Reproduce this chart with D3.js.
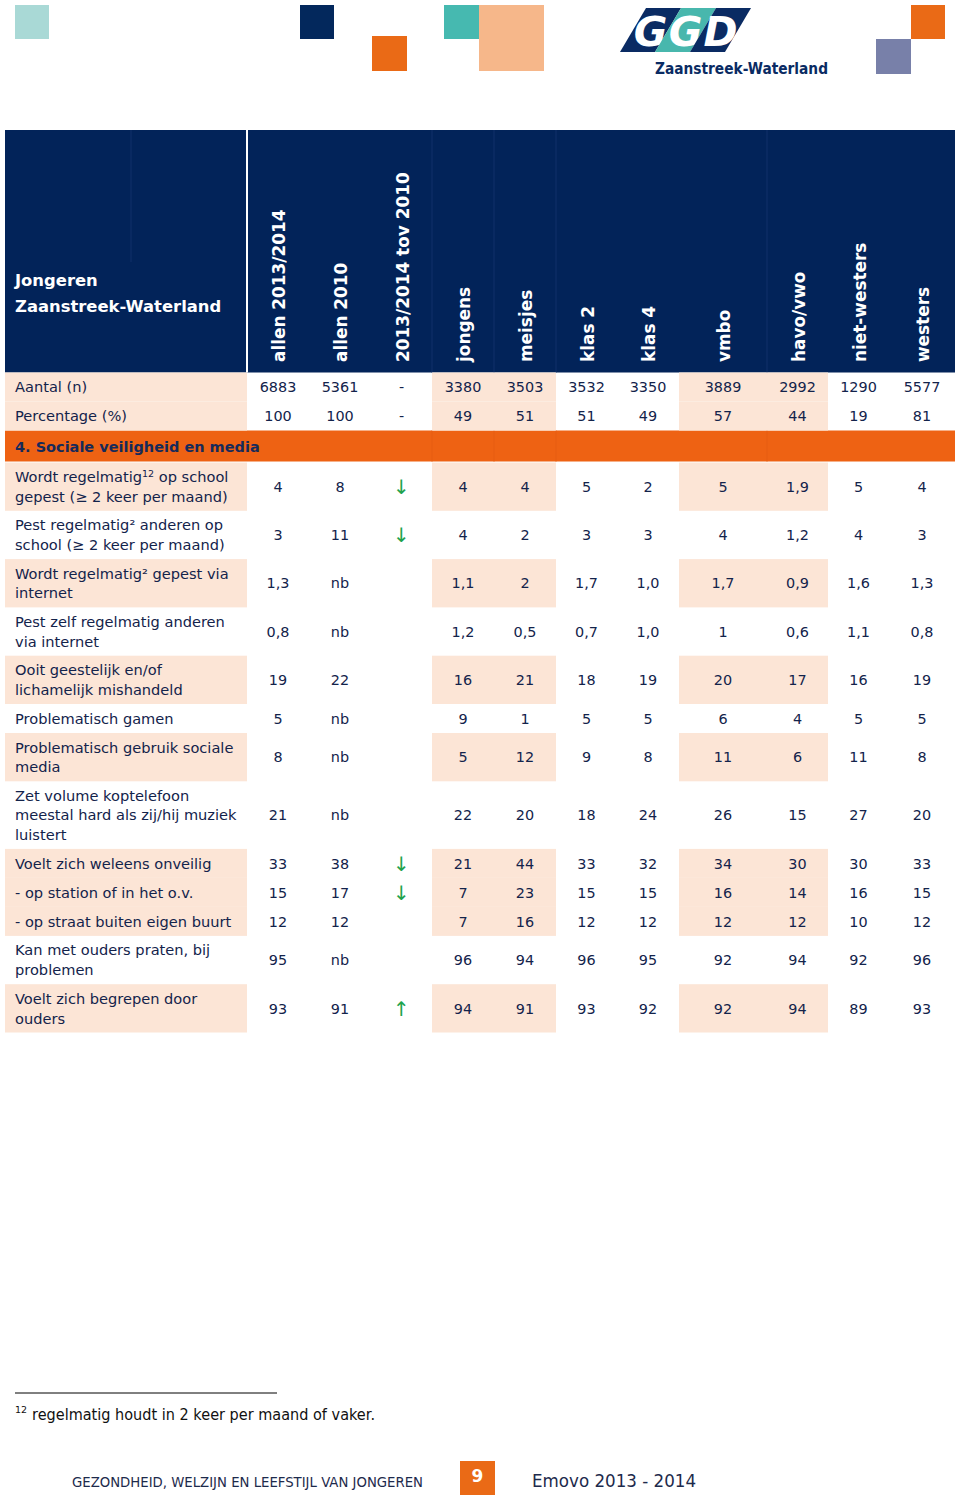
<!DOCTYPE html>
<html><head><meta charset="utf-8">
<script src="https://cdn.jsdelivr.net/npm/d3@7"></script>
<style>body{margin:0;background:#fff}svg{display:block}</style>
</head><body>
<svg id="c" width="960" height="1499"></svg>
<script>
// ---------- DATA ----------
const titleLines = ["Jongeren", "Zaanstreek-Waterland"];
const colLabels = ["allen 2013/2014","allen 2010","2013/2014 tov 2010","jongens","meisjes","klas 2","klas 4","vmbo","havo/vwo","niet-westers","westers"];
const sectionTitle = "4. Sociale veiligheid en media";
const rowLabels = [
  ["Aantal (n)"],
  ["Percentage (%)"],
  ["Wordt regelmatig^12^ op school","gepest (≥ 2 keer per maand)"],
  ["Pest regelmatig² anderen op","school (≥ 2 keer per maand)"],
  ["Wordt regelmatig² gepest via","internet"],
  ["Pest zelf regelmatig anderen","via internet"],
  ["Ooit geestelijk en/of","lichamelijk mishandeld"],
  ["Problematisch gamen"],
  ["Problematisch gebruik sociale","media"],
  ["Zet volume koptelefoon","meestal hard als zij/hij muziek","luistert"],
  ["Voelt zich weleens onveilig"],
  ["- op station of in het o.v."],
  ["- op straat buiten eigen buurt"],
  ["Kan met ouders praten, bij","problemen"],
  ["Voelt zich begrepen door","ouders"]
];
const allen2014   = ["6883","100","4","3","1,3","0,8","19","5","8","21","33","15","12","95","93"];
const allen2010   = ["5361","100","8","11","nb","nb","22","nb","nb","nb","38","17","12","nb","91"];
const trend       = ["-","-","down","down","","","","","","","down","down","","","up"];
const jongens     = ["3380","49","4","4","1,1","1,2","16","9","5","22","21","7","7","96","94"];
const meisjes     = ["3503","51","4","2","2","0,5","21","1","12","20","44","23","16","94","91"];
const klas2       = ["3532","51","5","3","1,7","0,7","18","5","9","18","33","15","12","96","93"];
const klas4       = ["3350","49","2","3","1,0","1,0","19","5","8","24","32","15","12","95","92"];
const vmbo        = ["3889","57","5","4","1,7","1","20","6","11","26","34","16","12","92","92"];
const havovwo     = ["2992","44","1,9","1,2","0,9","0,6","17","4","6","15","30","14","12","94","94"];
const nietWesters = ["1290","19","5","4","1,6","1,1","16","5","11","27","30","16","10","92","89"];
const westers     = ["5577","81","4","3","1,3","0,8","19","5","8","20","33","15","12","96","93"];
const series = [allen2014, allen2010, trend, jongens, meisjes, klas2, klas4, vmbo, havovwo, nietWesters, westers];
const footnoteMark = "12";
const footnoteText = "regelmatig houdt in 2 keer per maand of vaker.";
const footerLeft = "GEZONDHEID, WELZIJN EN LEEFSTIJL VAN JONGEREN";
const pageNumber = "9";
const footerRight = "Emovo 2013 - 2014";
const logoLetters = ["G","G","D"];
const logoName = "Zaanstreek-Waterland";

// ---------- LAYOUT / STYLE ----------
const NAVY = "#022359", TEXT = "#13234b", ORANGE = "#ee6213", PEACH = "#fce5d6", GREEN = "#21a24c";
const colWeights = [62,62,61,62,62,61,62,88,61,61,66];
const shadedRows = [true,true,true,false,true,false,true,false,true,false,true,true,true,false,true];
const FONT = "'DejaVu Sans', Verdana, sans-serif";

const svg = d3.select("#c");
const tableLeft = 5, labelRight = 247, tableRight = 955;
const edgesU = [0, ...d3.cumsum(colWeights)];
const x = d3.scaleLinear().domain([0, d3.sum(colWeights)]).range([labelRight, tableRight]);
const colX0 = i => x(edgesU[i]), colX1 = i => x(edgesU[i+1]);
const colC = i => (colX0(i) + colX1(i)) / 2;

// row geometry
const headTop = 130, headBottom = 372.5;
const rowH = n => n === 1 ? 29 : (n === 2 ? 48.3 : 67.6);
const sectionH = 32;
const rows = [];
let yy = headBottom;
rowLabels.forEach((lab, i) => {
  if (i === 2) { rows.section = [yy, yy + sectionH]; yy += sectionH; }
  const h = rowH(lab.length);
  rows.push({ y0: yy, y1: yy + h, lines: lab, i });
  yy += h;
});

// ---------- TOP DECORATION ----------
const deco = [
  {x:15,y:5,w:34,h:34,c:"#a9d9d6"},
  {x:300,y:5,w:34,h:34,c:"#03285c"},
  {x:372,y:36,w:35,h:35,c:"#ea6a16"},
  {x:444,y:5,w:35,h:34,c:"#46b9b0"},
  {x:479,y:5,w:65,h:66,c:"#f6b78a"},
  {x:911,y:5,w:34,h:34,c:"#ea6a16"},
  {x:876,y:39,w:35,h:35,c:"#7880a9"}
];
svg.selectAll("rect.deco").data(deco).join("rect").attr("class","deco")
  .attr("x",d=>d.x).attr("y",d=>d.y).attr("width",d=>d.w).attr("height",d=>d.h).attr("fill",d=>d.c);

// GGD logo
const logoTopL = 646, logoTopR = 751, logoBotL = 620, lt = 8, lb = 52, segW = (logoTopR - logoTopL) / 3, slant = logoTopL - logoBotL;
const segColors = ["#0a2b63","#48b7ad","#0a2b63"];
logoLetters.forEach((L, k) => {
  const a = logoTopL + k*segW, b = a + segW;
  svg.append("polygon").attr("points", `${a},${lt} ${b},${lt} ${b-slant},${lb} ${a-slant},${lb}`).attr("fill", segColors[k]);
  svg.append("text").attr("x", a + segW/2 - slant/2).attr("y", 46).attr("text-anchor","middle")
    .attr("font-family", FONT).attr("font-weight","bold").attr("font-style","italic").attr("font-size", 41)
    .attr("fill","#fff").text(L);
});
svg.append("text").attr("x", 655).attr("y", 74).attr("font-family", FONT).attr("font-weight","bold")
  .attr("font-size", 15).attr("fill", "#0a2b63").attr("textLength", 173).attr("lengthAdjust","spacingAndGlyphs").text(logoName);

// ---------- HEADER ----------
svg.append("rect").attr("x", tableLeft).attr("y", headTop).attr("width", tableRight - tableLeft).attr("height", headBottom - headTop).attr("fill", NAVY);
svg.append("line").attr("x1", 131).attr("x2", 131).attr("y1", headTop).attr("y2", 262).attr("stroke", "#10316a").attr("stroke-width", 1);
[3,4,5,8].forEach(i => svg.append("line").attr("x1", colX0(i)).attr("x2", colX0(i)).attr("y1", headTop).attr("y2", headBottom)
  .attr("stroke", "#10316a").attr("stroke-width", 1));
svg.append("line").attr("x1", labelRight).attr("x2", labelRight).attr("y1", headTop).attr("y2", headBottom).attr("stroke", "#fff").attr("stroke-width", 2);

svg.selectAll("text.title").data(titleLines).join("text").attr("class","title")
  .attr("x", 15).attr("y", (d,i) => 286 + i*25.5)
  .attr("font-family", FONT).attr("font-weight", "bold").attr("font-size", 16.4).attr("fill", "#fff").text(d => d);

svg.selectAll("text.colhead").data(colLabels).join("text").attr("class","colhead")
  .attr("transform", (d,i) => `translate(${colC(i)+1},362) rotate(-90)`)
  .attr("dy", "0.36em")
  .attr("font-family", FONT).attr("font-weight", "bold").attr("font-size", 16.9).attr("fill", "#fff").text(d => d);

// ---------- SECTION BAR ----------
const [s0, s1] = rows.section;
svg.append("rect").attr("x", tableLeft).attr("y", s0).attr("width", tableRight - tableLeft).attr("height", s1 - s0 - 1).attr("fill", ORANGE);
[3,4,5,8].forEach(i => svg.append("line").attr("x1", colX0(i)).attr("x2", colX0(i)).attr("y1", s0).attr("y2", s1-1)
  .attr("stroke", "#e65d12").attr("stroke-width", 1));
svg.append("text").attr("x", 15).attr("y", (s0 + s1)/2).attr("dy","0.36em").attr("font-family", FONT).attr("font-weight","bold")
  .attr("font-size", 14.5).attr("fill", "#152a5a").text(sectionTitle);

// ---------- BODY ----------
const body = svg.append("g");
rows.forEach(r => {
  if (!shadedRows[r.i]) return;
  const h = r.y1 - r.y0;
  body.append("rect").attr("x", tableLeft).attr("y", r.y0).attr("width", labelRight - tableLeft).attr("height", h).attr("fill", PEACH);
  [[3,4],[7,8]].forEach(([a,b]) => body.append("rect").attr("x", colX0(a)).attr("y", r.y0).attr("width", colX1(b) - colX0(a)).attr("height", h).attr("fill", PEACH));
});

// labels
rows.forEach(r => {
  const cy = (r.y0 + r.y1) / 2, n = r.lines.length;
  r.lines.forEach((line, k) => {
    const t = body.append("text").attr("x", 15).attr("y", cy + (k - (n-1)/2) * 19.8).attr("dy", "0.36em")
      .attr("font-family", FONT).attr("font-size", 14.6).attr("fill", TEXT);
    const parts = line.split("^");
    parts.forEach((p, j) => {
      if (j % 2 === 1) t.append("tspan").attr("font-size", 9.5).attr("dy", "-0.55em").text(p);
      else if (j > 0) t.append("tspan").attr("dy", "0.35em").text(p);
      else t.append("tspan").text(p);
    });
  });
});

// values
series.forEach((col, ci) => {
  col.forEach((v, ri) => {
    const r = rows[ri], cy = (r.y0 + r.y1) / 2;
    if (v === "down" || v === "up") {
      body.append("text").attr("x", colC(ci)).attr("y", cy).attr("dy", "0.36em").attr("text-anchor","middle")
        .attr("font-family", FONT).attr("font-size", 20).attr("fill", GREEN).text(v === "down" ? "↓" : "↑");
    } else if (v !== "") {
      body.append("text").attr("x", colC(ci)).attr("y", cy).attr("dy", "0.36em").attr("text-anchor","middle")
        .attr("font-family", FONT).attr("font-size", 14.4).attr("fill", TEXT).text(v);
    }
  });
});

// ---------- FOOTNOTE ----------
svg.append("line").attr("x1", 15).attr("x2", 277).attr("y1", 1393).attr("y2", 1393).attr("stroke", "#000").attr("stroke-width", 1);
svg.append("text").attr("x", 15).attr("y", 1413).attr("font-family", FONT).attr("font-size", 9.5).attr("fill", "#111").text(footnoteMark);
svg.append("text").attr("x", 32).attr("y", 1420).attr("font-family", FONT).attr("font-size", 15.5).attr("fill", "#111")
  .attr("textLength", 343).attr("lengthAdjust","spacingAndGlyphs").text(footnoteText);

// ---------- FOOTER ----------
svg.append("text").attr("x", 72).attr("y", 1487).attr("font-family", FONT).attr("font-size", 14).attr("fill", "#1d2a4c")
  .attr("textLength", 351).attr("lengthAdjust","spacingAndGlyphs").text(footerLeft);
svg.append("rect").attr("x", 460).attr("y", 1461).attr("width", 35).attr("height", 34).attr("fill", "#ea6a16");
svg.append("text").attr("x", 477.5).attr("y", 1476).attr("dy","0.36em").attr("text-anchor","middle").attr("font-family", FONT)
  .attr("font-weight","bold").attr("font-size", 17).attr("fill", "#fff").text(pageNumber);
svg.append("text").attr("x", 532).attr("y", 1487).attr("font-family", FONT).attr("font-size", 18.5).attr("fill", "#1d2a4c")
  .attr("textLength", 164).attr("lengthAdjust","spacingAndGlyphs").text(footerRight);
</script>
</body></html>
